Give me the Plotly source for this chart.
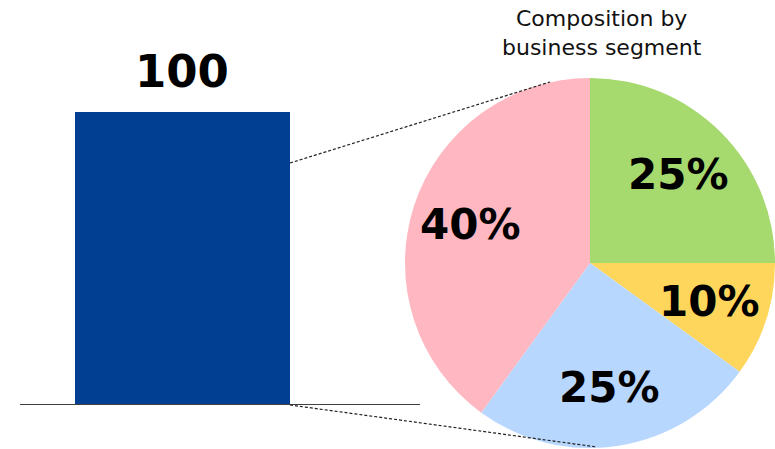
import math
import plotly.graph_objects as go

# datos
bar_labels = ["Total"]
bar_values = [100]

segments = ["Segment A", "Segment B", "Segment C", "Segment D"]
shares = [25, 10, 25, 40]
seg_colors = ["#A6D96E", "#FFD65C", "#B8D7FF", "#FFB7C1"]

W, H = 775, 449
font_family = "DejaVu Sans, Verdana, sans-serif"

# dominio del pastel (en px) -> centro y radio
pie_x0, pie_top = 405, 77
pie_dom_x = [pie_x0 / W, 1.0]
pie_dom_y = [0.0, 1 - pie_top / H]
pie_r = min(W - pie_x0, H - pie_top) / 2
pie_cx = (pie_x0 + W) / 2
pie_cy = H - (H - pie_top) / 2  # desde arriba

fig = go.Figure()

# barra total
fig.add_trace(go.Bar(
    x=bar_labels,
    y=bar_values,
    marker=dict(color="#003F92", line=dict(width=0)),
    width=1,
    hoverinfo="skip",
    xaxis="x", yaxis="y",
))

# etiqueta del valor sobre la barra
fig.add_annotation(
    x=bar_labels[0], y=bar_values[0], xref="x", yref="y",
    text=f"<b>{bar_values[0]}</b>", showarrow=False,
    yanchor="bottom", yshift=12,
    font=dict(size=45, color="#000000", family=font_family),
)

# pastel de composición
fig.add_trace(go.Pie(
    labels=segments,
    values=shares,
    sort=False,
    direction="clockwise",
    rotation=0,
    marker=dict(colors=seg_colors, line=dict(width=0)),
    textinfo="none",
    domain=dict(x=pie_dom_x, y=pie_dom_y),
    showlegend=False,
    hoverinfo="skip",
))

# etiquetas de porcentaje (calculadas desde los valores)
total = sum(shares)
acc = 0
for s in shares:
    mid = (acc + s / 2) / total * 2 * math.pi
    acc += s
    px_ = pie_cx + 0.68 * pie_r * math.sin(mid)
    py_ = pie_cy - 0.68 * pie_r * math.cos(mid)
    fig.add_annotation(
        x=px_ / W, y=1 - py_ / H, xref="paper", yref="paper",
        text=f"<b>{s}%</b>", showarrow=False,
        xanchor="center", yanchor="middle",
        font=dict(size=42, color="#000000", family=font_family),
    )

# líneas de conexión punteadas
line_style = dict(color="#222222", width=1.2, dash="3px,2px")
fig.add_shape(type="line", xref="paper", yref="paper",
              x0=290 / W, y0=1 - 163 / H, x1=550 / W, y1=1 - 82 / H, line=line_style)
fig.add_shape(type="line", xref="paper", yref="paper",
              x0=290 / W, y0=1 - 405 / H, x1=597 / W, y1=1 - 447 / H, line=line_style)

# título del pastel
fig.add_annotation(
    x=602 / W, y=1 - 4 / H, xref="paper", yref="paper",
    text="Composition by<br>business segment", showarrow=False,
    xanchor="center", yanchor="top", align="center",
    font=dict(size=22, color="#111111", family=font_family),
)

fig.update_layout(
    width=W, height=H,
    margin=dict(l=0, r=0, t=0, b=0),
    paper_bgcolor="white",
    plot_bgcolor="white",
    showlegend=False,
    bargap=0,
    xaxis=dict(
        domain=[20 / W, 420 / W],
        range=[-0.756, 1.105],
        showticklabels=False, ticks="",
        showgrid=False, zeroline=False,
        showline=True, linecolor="#404040", linewidth=1,
    ),
    yaxis=dict(
        domain=[45 / H, 1.0],
        range=[0, 100 * 404 / 292],
        visible=False,
        showgrid=False, zeroline=False,
    ),
)

fig.write_html("out.html", config={"displayModeBar": False},
               post_script="document.body.style.margin='0';")
